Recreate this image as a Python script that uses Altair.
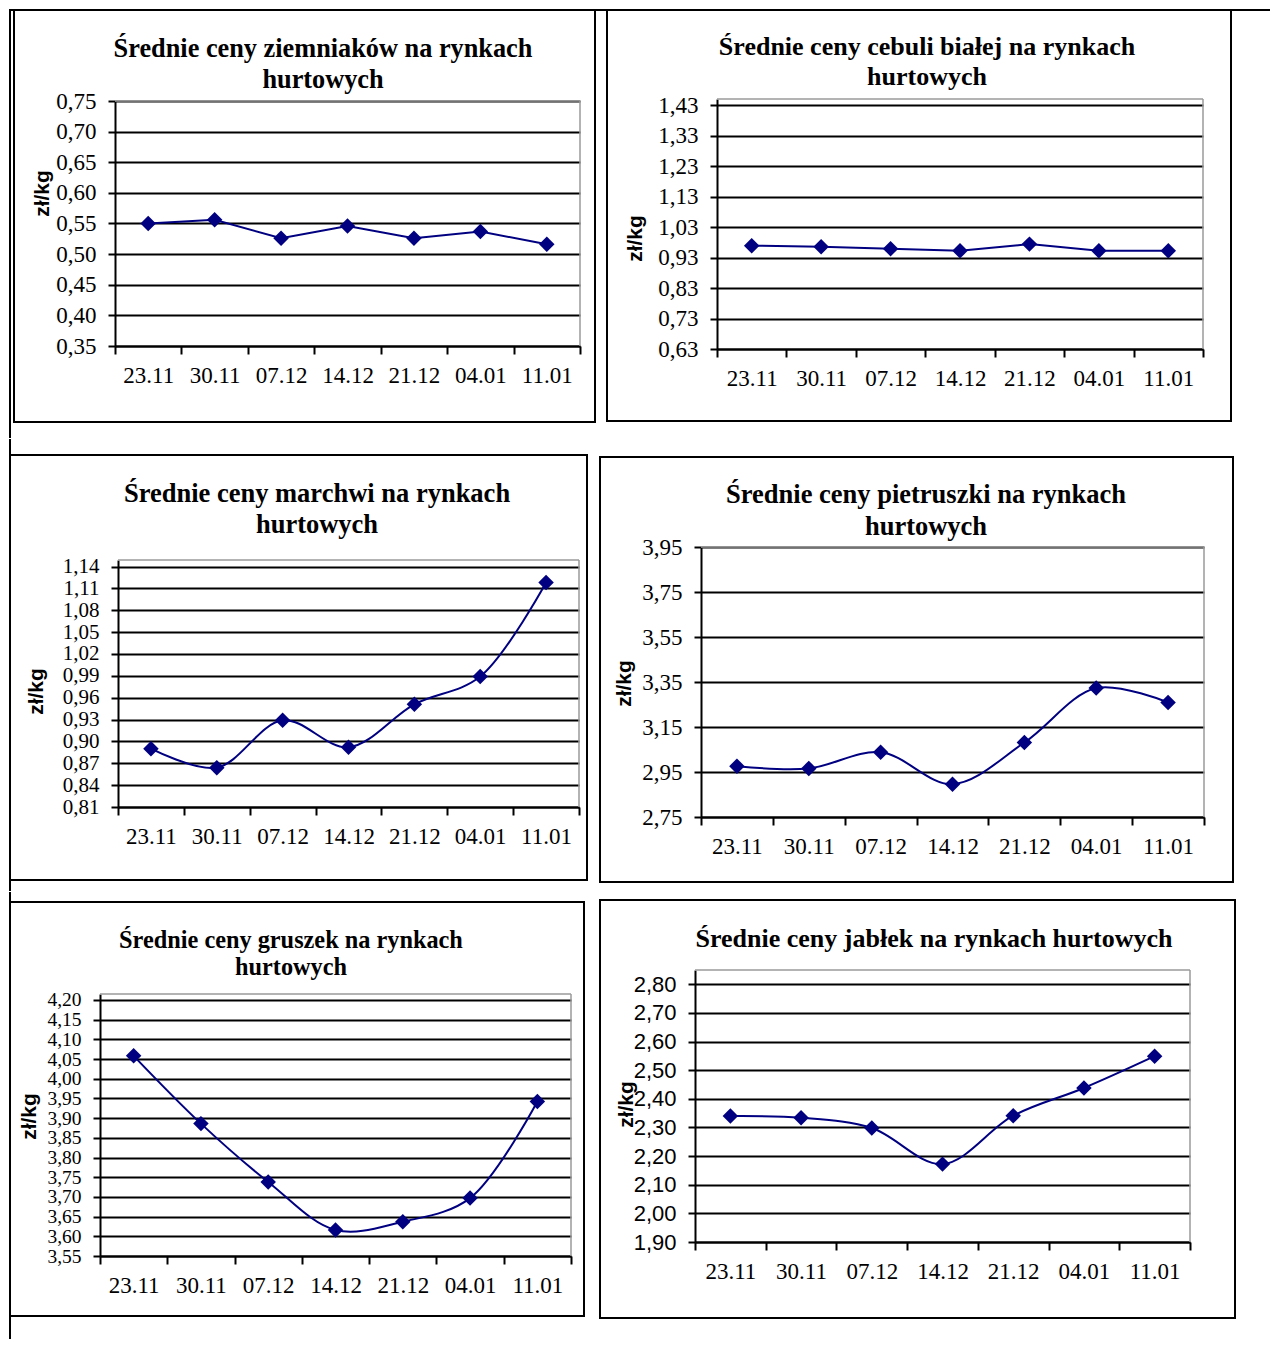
import altair as alt
import pandas as pd

# ---------------- data ----------------
DATES = ["23.11", "30.11", "07.12", "14.12", "21.12", "04.01", "11.01"]

ZIEMNIAKI = [0.550, 0.556, 0.526, 0.546, 0.526, 0.537, 0.516]
CEBULA = [0.969, 0.965, 0.959, 0.952, 0.974, 0.952, 0.952]
MARCHEW = [0.890, 0.864, 0.929, 0.892, 0.951, 0.989, 1.118]
PIETRUSZKA = [2.976, 2.966, 3.038, 2.896, 3.081, 3.323, 3.259]
GRUSZKI = [4.058, 3.886, 3.738, 3.616, 3.637, 3.697, 3.942]
JABLKA = [2.340, 2.334, 2.298, 2.172, 2.341, 2.438, 2.549]

TICKS_ZIEMNIAKI = [0.35, 0.40, 0.45, 0.50, 0.55, 0.60, 0.65, 0.70, 0.75]
TICKS_CEBULA = [0.63, 0.73, 0.83, 0.93, 1.03, 1.13, 1.23, 1.33, 1.43]
TICKS_MARCHEW = [0.81, 0.84, 0.87, 0.90, 0.93, 0.96, 0.99, 1.02, 1.05, 1.08, 1.11, 1.14]
TICKS_PIETRUSZKA = [2.75, 2.95, 3.15, 3.35, 3.55, 3.75, 3.95]
TICKS_GRUSZKI = [3.55, 3.60, 3.65, 3.70, 3.75, 3.80, 3.85, 3.90, 3.95, 4.00, 4.05, 4.10, 4.15, 4.20]
TICKS_JABLKA = [1.90, 2.00, 2.10, 2.20, 2.30, 2.40, 2.50, 2.60, 2.70, 2.80]

TITLE_ZIEMNIAKI = ["Średnie ceny ziemniaków  na rynkach", "hurtowych"]
TITLE_CEBULA = ["Średnie ceny cebuli białej na rynkach", "hurtowych"]
TITLE_MARCHEW = ["Średnie ceny marchwi  na rynkach", "hurtowych"]
TITLE_PIETRUSZKA = ["Średnie ceny pietruszki na rynkach", "hurtowych"]
TITLE_GRUSZKI = ["Średnie ceny gruszek na rynkach", "hurtowych"]
TITLE_JABLKA = ["Średnie ceny jabłek  na  rynkach hurtowych"]
Y_TITLE = "zł/kg"

# ---------------- styling / layout (page pixel coordinates) ----------------
NAVY = "#000080"
SERIF = "Liberation Serif"
SANS = "Liberation Sans"
GRAY = "#9a9a9a"
COMMA = "replace(format(datum.value, '.2f'), '.', ',')"

PANELS = [
    dict(values=ZIEMNIAKI, ticks=TICKS_ZIEMNIAKI, domain=[0.35, 0.75], title=TITLE_ZIEMNIAKI,
         plot=(115, 101, 580, 346), cell=(9, 9, 601, 438), box=(14, 10, 595, 422),
         tx=323, ty=[57, 88], tsize=26.3, yt=(42, 193), interp="linear", lfont=SERIF, lsize=23,
         left_line=True, top_line=True),
    dict(values=CEBULA, ticks=TICKS_CEBULA, domain=[0.63, 1.45], title=TITLE_CEBULA,
         plot=(717, 99, 1203, 349), cell=(601, 9, 1270, 438), box=(607, 10, 1231, 421),
         tx=927, ty=[55, 85], tsize=26, yt=(635, 238), interp="linear", lfont=SERIF, lsize=23,
         left_line=False, top_line=True),
    dict(values=MARCHEW, ticks=TICKS_MARCHEW, domain=[0.81, 1.149], title=TITLE_MARCHEW,
         plot=(118, 560, 579, 807), cell=(9, 439, 594, 891), box=(10, 455, 587, 880),
         tx=317, ty=[502, 533], tsize=26.5, yt=(36, 691), interp="catmull-rom", lfont=SERIF,
         lsize=21, left_line=True, top_line=False),
    dict(values=PIETRUSZKA, ticks=TICKS_PIETRUSZKA, domain=[2.75, 3.95], title=TITLE_PIETRUSZKA,
         plot=(701, 547, 1204, 817), cell=(594, 439, 1270, 891), box=(600, 457, 1233, 882),
         tx=926, ty=[503, 535], tsize=26.5, yt=(624, 683), interp="catmull-rom", lfont=SERIF,
         lsize=23, left_line=False, top_line=False),
    dict(values=GRUSZKI, ticks=TICKS_GRUSZKI, domain=[3.55, 4.215], title=TITLE_GRUSZKI,
         plot=(100, 994, 571, 1256), cell=(9, 892, 592, 1339), box=(10, 902, 584, 1316),
         tx=291, ty=[948, 975], tsize=24.3, yt=(29, 1116), interp="catmull-rom", lfont=SERIF,
         lsize=19.5, left_line=True, top_line=False),
    dict(values=JABLKA, ticks=TICKS_JABLKA, domain=[1.90, 2.85], title=TITLE_JABLKA,
         plot=(695, 970, 1190, 1242), cell=(592, 892, 1270, 1339), box=(600, 900, 1235, 1318),
         tx=934, ty=[947], tsize=26, yt=(626, 1104), interp="catmull-rom", lfont=SANS,
         lsize=22, left_line=False, top_line=False),
]

DECO = pd.DataFrame({"k": [0]})


def rect(L, T, x0, y0, x1, y1, **mark):
    return alt.Chart(DECO).mark_rect(**mark).encode(
        x=alt.value(x0 - L), x2=alt.value(x1 - L),
        y=alt.value(y0 - T), y2=alt.value(y1 - T))


def panel(p):
    L, T, R, B = p["plot"]
    W, H = R - L, B - T
    df = pd.DataFrame({"data": DATES, "cena": p["values"]})

    xenc = alt.X(
        "data:N", sort=DATES, bandPosition=0.5, title=None,
        scale=alt.Scale(type="band", paddingInner=0, paddingOuter=0),
        axis=alt.Axis(labelAngle=0, labelFont=SERIF, labelFontSize=23, labelColor="black",
                      labelPadding=10, tickSize=8, tickWidth=2, tickColor="black",
                      domainColor="black", domainWidth=2, tickBand="extent", grid=False,
                      labelOverlap=False))
    yenc = alt.Y(
        "cena:Q",
        scale=alt.Scale(domain=p["domain"], zero=False, nice=False),
        axis=alt.Axis(values=p["ticks"], labelExpr=COMMA, labelFont=p["lfont"],
                      labelFontSize=p["lsize"], labelColor="black", labelPadding=12,
                      tickSize=7, tickWidth=2, tickColor="black", domainColor="black",
                      domainWidth=2, grid=True, gridColor="black", gridWidth=2, gridOpacity=1,
                      labelOverlap=False,
                      title=Y_TITLE, titleFont=SANS, titleFontSize=21, titleFontWeight="bold",
                      titleColor="black", titleAngle=270, titleAlign="center",
                      titleBaseline="middle", titleX=p["yt"][0] - L, titleY=p["yt"][1] - T))

    base = alt.Chart(df).encode(x=xenc, y=yenc)
    line = base.mark_line(interpolate=p["interp"], color=NAVY, strokeWidth=2)
    pts = base.mark_point(shape="diamond", filled=True, size=240, color=NAVY, opacity=1)

    cx0, cy0, cx1, cy1 = p["cell"]
    bx0, by0, bx1, by1 = p["box"]
    layers = [
        rect(L, T, cx0, cy0, cx1, cy1, fillOpacity=0, fill="white"),
        rect(L, T, bx0, by0, bx1, by1, fillOpacity=0, fill="white", stroke="black", strokeWidth=2),
        # plot-area frame (top and right edges, grey)
        alt.Chart(DECO).mark_rule(color=GRAY, strokeWidth=1.5).encode(
            x=alt.value(0), x2=alt.value(W), y=alt.value(0)),
        alt.Chart(DECO).mark_rule(color=GRAY, strokeWidth=1.5).encode(
            x=alt.value(W), y=alt.value(0), y2=alt.value(H)),
    ]
    if p["left_line"]:
        layers.append(rect(L, T, 9, cy0, 11, cy1, fill="black"))
    if p["top_line"]:
        layers.append(rect(L, T, cx0, 9, cx1, 11, fill="black"))
    for txt, ty in zip(p["title"], p["ty"]):
        layers.append(
            alt.Chart(DECO).mark_text(font=SERIF, fontSize=p["tsize"], fontWeight="bold",
                                      color="black", align="center", baseline="alphabetic")
            .encode(x=alt.value(p["tx"] - L), y=alt.value(ty - T), text=alt.value(txt)))
    layers += [line, pts]
    return alt.layer(*layers).properties(width=W, height=H)


def spacer():
    return alt.Chart(DECO).mark_rect(fillOpacity=0, fill="white").encode(
        x=alt.value(0), x2=alt.value(1), y=alt.value(0), y2=alt.value(1)
    ).properties(width=1, height=1)


charts = [panel(p) for p in PANELS]


def row(a, b):
    return alt.hconcat(
        spacer(),
        alt.vconcat(spacer(), a, spacing=0),
        alt.vconcat(spacer(), b, spacing=0),
        spacing=0,
    )


chart = (
    alt.vconcat(row(charts[0], charts[1]), row(charts[2], charts[3]), row(charts[4], charts[5]),
                spacing=0)
    .properties(padding=0, background="white")
    .configure_view(strokeWidth=0, strokeOpacity=0)
)

chart.save("out.html", embed_options={"renderer": "svg", "actions": False})
